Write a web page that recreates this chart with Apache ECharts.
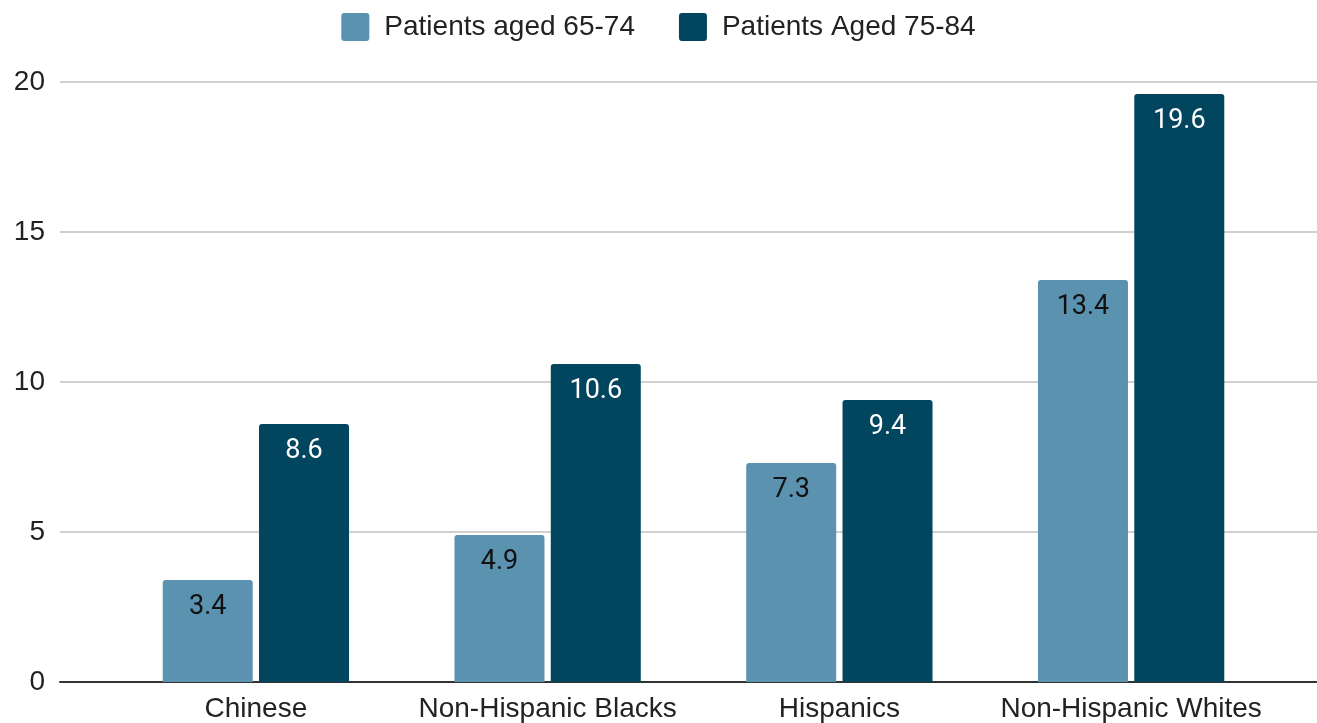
<!DOCTYPE html>
<html>
<head>
<meta charset="utf-8">
<script src="https://cdn.jsdelivr.net/npm/echarts@6/dist/echarts.min.js"></script>
<style>
  html, body { margin: 0; padding: 0; background: #fff; }
  #chart { width: 1317px; height: 723px; }
</style>
</head>
<body>
<div id="chart"></div>
<script>
// Population groups along the x axis
const categories = ['Chinese', 'Non-Hispanic Blacks', 'Hispanics', 'Non-Hispanic Whites'];
// Series names
const seriesNames = ['Patients aged 65-74', 'Patients Aged 75-84'];
// Values per group
const aged65to74 = [3.4, 4.9, 7.3, 13.4];
const aged75to84 = [8.6, 10.6, 9.4, 19.6];
// Y axis scale
const yMin = 0, yMax = 20, yStep = 5;

const lightBlue = '#5a92b0';
const darkBlue = '#02455f';
const axisFont = 'Liberation Sans, Arial, sans-serif';
const squareIcon = 'path://M3,0 H25 Q28,0 28,3 V25 Q28,28 25,28 H3 Q0,28 0,25 V3 Q0,0 3,0 Z';

const chart = echarts.init(document.getElementById('chart'), null, { renderer: 'canvas' });

const valueLabel = (color) => ({
  show: true,
  position: 'insideTop',
  distance: 14,
  color: color,
  fontFamily: 'Roboto, sans-serif',
  fontSize: 27,
  formatter: (p) => p.value.toFixed(1)
});

chart.setOption({
  animation: false,
  backgroundColor: '#fff',
  legend: {
    top: 8,
    left: 'center',
    itemWidth: 28,
    itemHeight: 28,
    itemGap: 44,
    icon: squareIcon,
    textStyle: { fontFamily: axisFont, fontSize: 28, color: '#222', padding: [0, 0, 0, 10] },
    data: seriesNames
  },
  grid: [
    // frame for gridlines and baseline
    { left: 60, right: 0, top: 82, bottom: 41 },
    // frame holding the bars
    { left: 110, right: 40, top: 82, bottom: 41 }
  ],
  xAxis: [
    {
      gridIndex: 0, type: 'category', data: [''],
      axisLine: { show: true, lineStyle: { color: '#333', width: 2 } },
      axisTick: { show: false }, axisLabel: { show: false }
    },
    {
      gridIndex: 1, type: 'category', data: categories,
      axisLine: { show: false }, axisTick: { show: false },
      axisLabel: {
        interval: 0, hideOverlap: false,
        fontFamily: axisFont, fontSize: 28, color: '#222', margin: 13
      }
    }
  ],
  yAxis: [
    {
      gridIndex: 0, type: 'value', min: yMin, max: yMax, interval: yStep,
      axisLine: { show: false }, axisTick: { show: false },
      axisLabel: { fontFamily: axisFont, fontSize: 28, color: '#222', margin: 15 },
      splitLine: { lineStyle: { color: '#d0d0d0', width: 2 } }
    },
    {
      gridIndex: 1, type: 'value', min: yMin, max: yMax, interval: yStep, show: false
    }
  ],
  series: [
    {
      name: seriesNames[0], type: 'bar', xAxisIndex: 1, yAxisIndex: 1,
      data: aged65to74, barWidth: 90, barGap: '7%',
      itemStyle: { color: lightBlue, borderRadius: [3, 3, 0, 0] },
      label: valueLabel('#111')
    },
    {
      name: seriesNames[1], type: 'bar', xAxisIndex: 1, yAxisIndex: 1,
      data: aged75to84, barWidth: 90, barGap: '7%',
      itemStyle: { color: darkBlue, borderRadius: [3, 3, 0, 0] },
      label: valueLabel('#fff')
    }
  ]
});
</script>
</body>
</html>
